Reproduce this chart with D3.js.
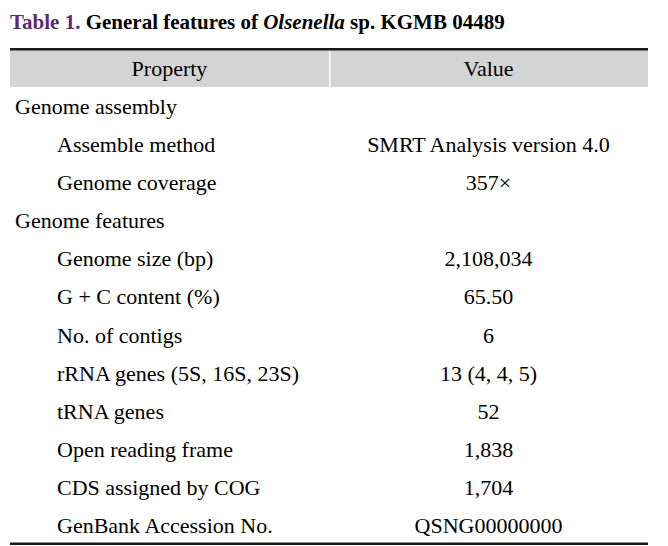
<!DOCTYPE html>
<html><head><meta charset="utf-8">
<script src="https://cdn.jsdelivr.net/npm/d3@7"></script>
<style>html,body{margin:0;padding:0;background:#fff;}</style>
</head><body>
<script>
const headers = ["Property", "Value"];
const properties = ["Genome assembly","Assemble method","Genome coverage","Genome features","Genome size (bp)","G + C content (%)","No. of contigs","rRNA genes (5S, 16S, 23S)","tRNA genes","Open reading frame","CDS assigned by COG","GenBank Accession No."];
const values = ["","SMRT Analysis version 4.0","357×","","2,108,034","65.50","6","13 (4, 4, 5)","52","1,838","1,704","QSNG00000000"];
const levels = [0,1,1,0,1,1,1,1,1,1,1,1];

const W = 668, H = 546;
const font = "'Liberation Serif','Times New Roman',serif";
const svg = d3.select("body").append("svg").attr("width", W).attr("height", H);

const x0 = 10, x1 = 648, xDiv = 329;
const y = d3.scaleBand().domain(d3.range(properties.length)).range([88, 545]).paddingInner(0).paddingOuter(0);

// title
const t = svg.append("text").attr("x", 10).attr("y", 29).attr("font-family", font)
  .attr("font-size", 21).attr("font-weight", "bold").attr("fill", "#000");
t.append("tspan").attr("fill", "#5a2d72").text("Table 1. ");
t.append("tspan").text("General features of ");
t.append("tspan").attr("font-style", "italic").text("Olsenella");
t.append("tspan").text(" sp. KGMB 04489");

// header
svg.append("rect").attr("x", x0).attr("y", 50).attr("width", x1 - x0).attr("height", 37).attr("fill", "#d4d4d4");
svg.append("rect").attr("x", xDiv).attr("y", 50).attr("width", 1.5).attr("height", 37).attr("fill", "#fff");
svg.append("rect").attr("x", x0).attr("y", 48).attr("width", x1 - x0).attr("height", 2.5).attr("fill", "#1a1a1a");
svg.selectAll("text.h").data(headers).join("text").attr("class", "h")
  .attr("x", (d, i) => i === 0 ? (x0 + xDiv) / 2 : (xDiv + x1) / 2)
  .attr("y", 76).attr("text-anchor", "middle").attr("font-family", font).attr("font-size", 22).text(d => d);

// rows
const rows = svg.selectAll("g.r").data(properties).join("g").attr("class", "r")
  .attr("transform", (d, i) => `translate(0,${y(i) + y.bandwidth() / 2})`);
rows.append("text").attr("x", (d, i) => levels[i] ? 57 : 15).attr("y", 7)
  .attr("font-family", font).attr("font-size", 22).text(d => d);
rows.append("text").attr("x", (xDiv + x1) / 2).attr("y", 7).attr("text-anchor", "middle")
  .attr("font-family", font).attr("font-size", 22).text((d, i) => values[i]);

svg.append("rect").attr("x", x0).attr("y", 542.5).attr("width", x1 - x0).attr("height", 2.5).attr("fill", "#1a1a1a");
</script>
</body></html>
